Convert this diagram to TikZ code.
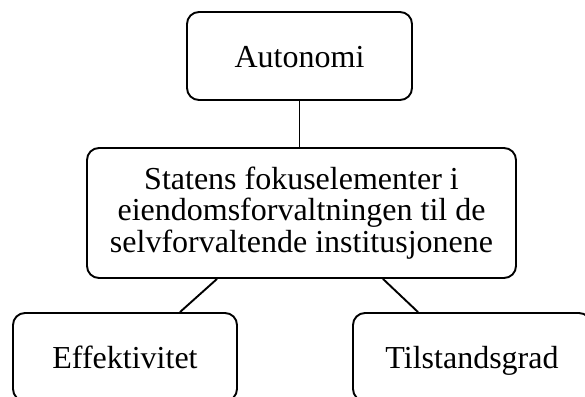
\documentclass[tikz,border=0pt]{standalone}
\usepackage{fontspec}
\setmainfont{Liberation Serif}
\begin{document}
\begin{tikzpicture}[x=1pt,y=-1pt,
  box/.style={draw=black,line width=1.9pt,rounded corners=12pt,inner sep=0pt,
    align=center,font=\fontsize{32}{31.7}\selectfont},
  single/.style={box,text height=29pt,text depth=7pt},
  conn/.style={draw=black,line width=1.9pt}]
\useasboundingbox (0,0) rectangle (585,396);
\clip (0,0) rectangle (585,396);
\node[single,minimum width=225pt,minimum height=88pt] (aut) at (299.5,56) {Autonomi};
\node[box,minimum width=429pt,minimum height=130pt] (sta) at (301.5,213)
  {Statens fokuselementer i\\eiendomsforvaltningen til de\\selvforvaltende institusjonene};
\node[single,minimum width=224pt,minimum height=88pt] (eff) at (125,357) {Effektivitet};
\node[single,minimum width=238pt,minimum height=88pt] (til) at (472,357) {Tilstandsgrad};
\draw[conn] (aut.south) -- (sta.north -| aut.south);
\draw[conn] (sta.south -| 217,0) -- (eff.north -| 180,0);
\draw[conn] (sta.south -| 383,0) -- (til.north -| 418,0);
\end{tikzpicture}
\end{document}
